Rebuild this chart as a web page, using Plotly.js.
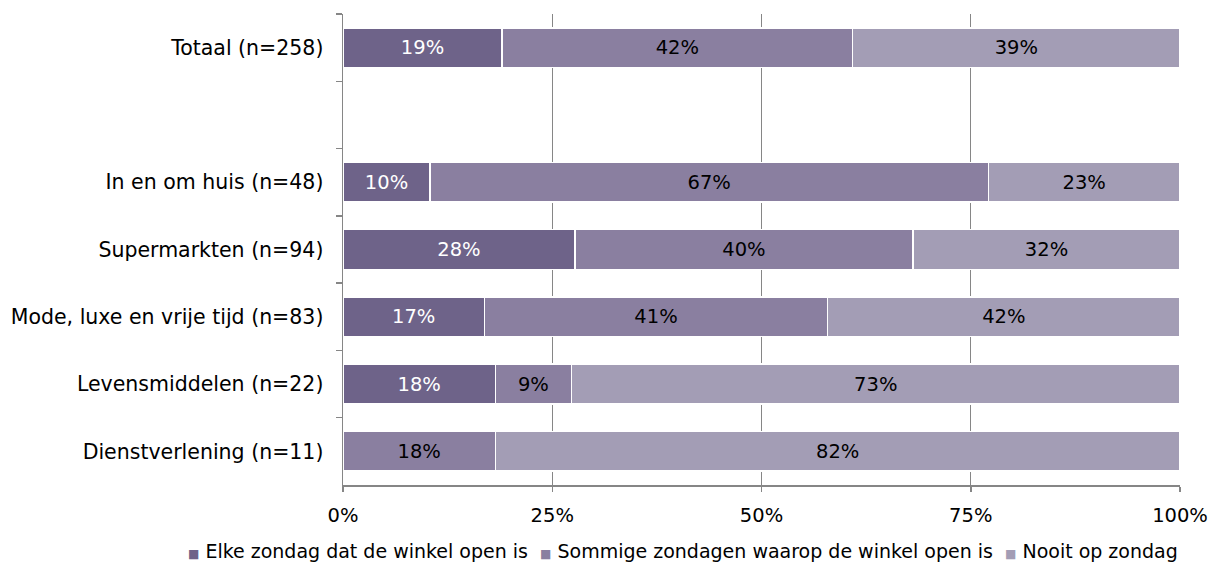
<!DOCTYPE html>
<html>
<head>
<meta charset="utf-8">
<script src="https://cdn.plot.ly/plotly-3.0.1.min.js"></script>
<style>html,body{margin:0;padding:0;background:#fff;}#chart{width:1219px;height:572px;}</style>
</head>
<body>
<div id="chart"></div>
<script>
// Categories, top to bottom (the blank slot is an empty row in the original)
const categories = ["Totaal (n=258)", " ", "In en om huis (n=48)", "Supermarkten (n=94)", "Mode, luxe en vrije tijd (n=83)", "Levensmiddelen (n=22)", "Dienstverlening (n=11)"];
const seriesNames = ["Elke zondag dat de winkel open is", "Sommige zondagen waarop de winkel open is", "Nooit op zondag"];
// Percentages per category (same order as categories)
const elke     = [19.0, null, 10.4, 27.7, 16.9, 18.2, null];
const sommige  = [41.9, null, 66.7, 40.4, 41.0,  9.1, 18.2];
const nooit    = [39.1, null, 22.9, 31.9, 42.1, 72.7, 81.8];
const xTickVals = [0, 25, 50, 75, 100];
const xTickText = ["0%", "25%", "50%", "75%", "100%"];

const colors = ["#6e6389", "#8a7fa0", "#a39db5"];
const textColors = ["#ffffff", "#000000", "#000000"];
const seriesValues = [elke, sommige, nooit];

const FONT = "DejaVu Sans, Verdana, sans-serif";
const FS = 19.5;

const traces = seriesValues.map((vals, i) => ({
  type: "bar",
  orientation: "h",
  name: seriesNames[i],
  y: categories,
  x: vals,
  text: vals.map(v => v == null ? "" : Math.round(v) + "%"),
  texttemplate: "%{text}",
  textposition: "inside",
  insidetextanchor: "middle",
  textangle: 0,
  constraintext: "none",
  textfont: {family: FONT, size: FS, color: textColors[i]},
  marker: {color: colors[i], line: {color: "#ffffff", width: 1.5}},
  hoverinfo: "skip",
  showlegend: false
}));

// Legend drawn as one line of rich text (small coloured squares + names)
const NB = "\u00a0";
const legendText = seriesNames.map((n, i) =>
  '<span style="color:' + colors[i] + ';font-size:12px">\u25A0</span>' + NB + n
).join(NB + NB);

const layout = {
  width: 1219,
  height: 572,
  margin: {l: 343, r: 39, t: 14, b: 87},
  barmode: "stack",
  bargap: 0.41,
  paper_bgcolor: "#ffffff",
  plot_bgcolor: "#ffffff",
  font: {family: FONT, size: FS, color: "#000000"},
  showlegend: false,
  annotations: [{
    xref: "paper", yref: "paper",
    x: 1, xanchor: "right",
    y: -0.14, yanchor: "middle",
    text: legendText,
    showarrow: false,
    font: {family: FONT, size: 19, color: "#000000"}
  }],
  xaxis: {
    range: [0, 100],
    tickvals: xTickVals,
    ticktext: xTickText,
    showgrid: true,
    gridcolor: "#868686",
    gridwidth: 1.2,
    zeroline: false,
    showline: true,
    linecolor: "#868686",
    linewidth: 1.5,
    ticks: "outside",
    ticklen: 5,
    tickcolor: "#868686",
    tickwidth: 1.5,
    ticklabelstandoff: 7,
    tickfont: {family: FONT, size: FS, color: "#000000"},
    fixedrange: true
  },
  yaxis: {
    type: "category",
    categoryorder: "array",
    categoryarray: categories,
    autorange: "reversed",
    showline: true,
    linecolor: "#868686",
    linewidth: 1.5,
    ticks: "outside",
    tickson: "boundaries",
    ticklen: 6,
    tickcolor: "#868686",
    tickwidth: 1.5,
    ticklabelstandoff: 14,
    showgrid: false,
    tickfont: {family: FONT, size: 20.5, color: "#000000"},
    fixedrange: true
  }
};

Plotly.newPlot("chart", traces, layout, {displayModeBar: false, staticPlot: true});
</script>
</body>
</html>
